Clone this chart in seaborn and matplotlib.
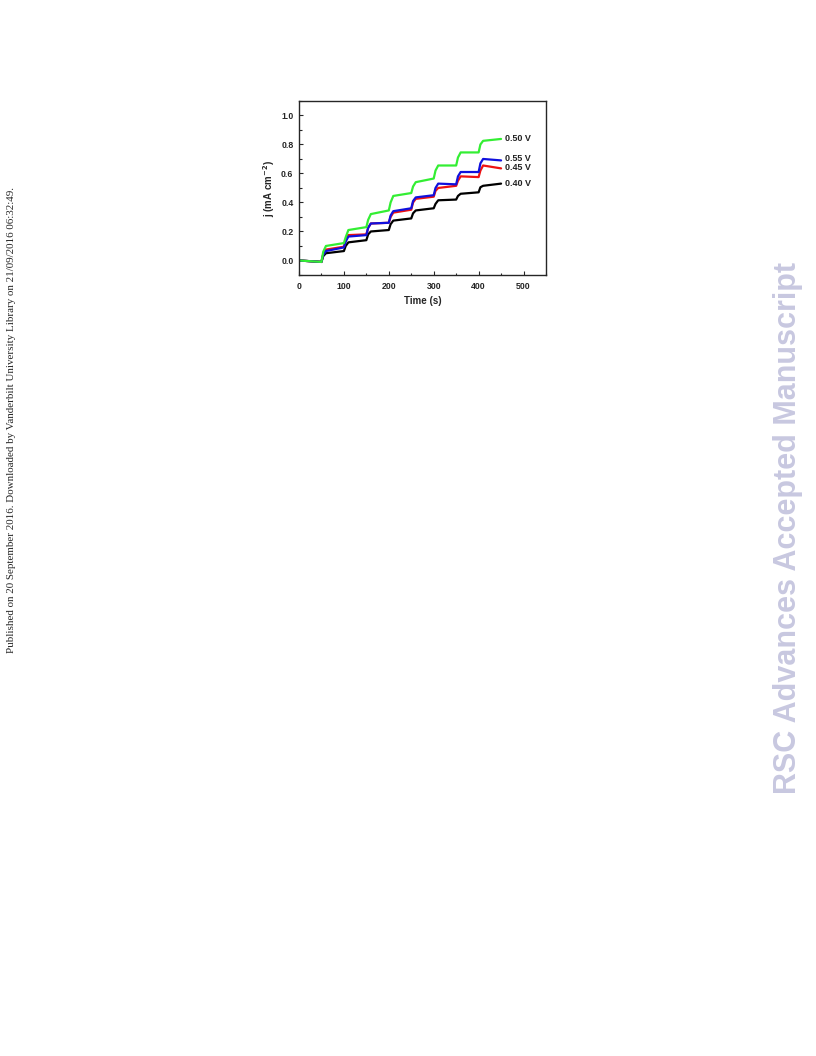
import pandas as pd
import seaborn as sns
import matplotlib.pyplot as plt
from matplotlib.ticker import MultipleLocator

# time points (s): start, then each light-on step at 50 s intervals
time_s = [0, 50, 54, 60, 100, 104, 110, 150, 154, 160, 200, 204, 210,
          250, 254, 260, 300, 304, 310, 350, 354, 360, 400, 404, 410, 450]

j_040 = [0.0, -0.01, 0.03, 0.05, 0.065, 0.10, 0.125, 0.14, 0.18, 0.20, 0.21, 0.25, 0.275,
         0.29, 0.325, 0.345, 0.36, 0.39, 0.415, 0.42, 0.445, 0.46, 0.47, 0.505, 0.515, 0.53]
j_045 = [0.0, -0.01, 0.045, 0.075, 0.095, 0.14, 0.175, 0.18, 0.225, 0.255, 0.26, 0.30, 0.33,
         0.35, 0.40, 0.425, 0.44, 0.48, 0.50, 0.515, 0.55, 0.58, 0.575, 0.62, 0.655, 0.635]
j_055 = [0.0, -0.01, 0.04, 0.065, 0.09, 0.13, 0.165, 0.175, 0.225, 0.255, 0.26, 0.31, 0.34,
         0.36, 0.41, 0.435, 0.45, 0.50, 0.53, 0.525, 0.58, 0.61, 0.61, 0.67, 0.70, 0.69]
j_050 = [0.0, -0.01, 0.06, 0.10, 0.12, 0.16, 0.21, 0.23, 0.28, 0.32, 0.345, 0.40, 0.445,
         0.465, 0.51, 0.54, 0.565, 0.62, 0.655, 0.655, 0.71, 0.745, 0.745, 0.80, 0.825, 0.838]

series = ["0.40 V", "0.45 V", "0.55 V", "0.50 V"]
colors = ["black", "#ee1111", "#1010dd", "#33ee33"]
label_y = [0.534, 0.638, 0.70, 0.838]

rows = []
for name, vals in zip(series, [j_040, j_045, j_055, j_050]):
    for t, v in zip(time_s, vals):
        rows.append({"Time": t, "j": v, "bias": name})
df = pd.DataFrame(rows)

sns.set_style("ticks")
plt.rcParams["font.family"] = ["Liberation Sans", "DejaVu Sans"]

fig = plt.figure(figsize=(8.16, 10.56), dpi=100)
ax = fig.add_axes([0.3664, 0.7396, 0.3027, 0.1648])

sns.lineplot(data=df, x="Time", y="j", hue="bias", hue_order=series,
             palette=dict(zip(series, colors)), linewidth=1.6, legend=False, ax=ax)

for name, y in zip(series, label_y):
    ax.text(458, y, name, fontsize=6.5, fontweight="bold", va="center", color="#222222")

ax.set_xlim(0, 550)
ax.set_ylim(-0.1, 1.1)
ax.xaxis.set_major_locator(MultipleLocator(100))
ax.xaxis.set_minor_locator(MultipleLocator(50))
ax.yaxis.set_major_locator(MultipleLocator(0.2))
ax.yaxis.set_minor_locator(MultipleLocator(0.1))
ax.set_yticks([0.0, 0.2, 0.4, 0.6, 0.8, 1.0])
ax.set_yticklabels(["0.0", "0.2", "0.4", "0.6", "0.8", "1.0"])
ax.tick_params(which="both", direction="in", labelsize=6.3, width=0.8)
ax.tick_params(axis="x", pad=5)
ax.tick_params(axis="y", pad=4)
ax.tick_params(which="major", length=3)
ax.tick_params(which="minor", length=1.8)
for lab in ax.get_xticklabels() + ax.get_yticklabels():
    lab.set_fontweight("bold")
for sp in ax.spines.values():
    sp.set_linewidth(1.0)
    sp.set_visible(True)

ax.set_xlabel("Time (s)", fontsize=7, fontweight="bold", labelpad=4)
ax.set_ylabel(r"j (mA cm$^{\mathbf{-2}}$)", fontsize=7, fontweight="bold", labelpad=3)

fig.text(0.0147, 0.602, "Published on 20 September 2016. Downloaded by Vanderbilt University Library on 21/09/2016 06:32:49.",
         rotation=90, ha="center", va="center", fontsize=7.9, family="Liberation Serif")
fig.text(0.966, 0.50, "RSC Advances Accepted Manuscript", rotation=90, ha="center", va="center",
         fontsize=22, fontweight="bold", color="#c8c8e0", family="Liberation Sans")

fig.savefig("out.png", dpi=100)
